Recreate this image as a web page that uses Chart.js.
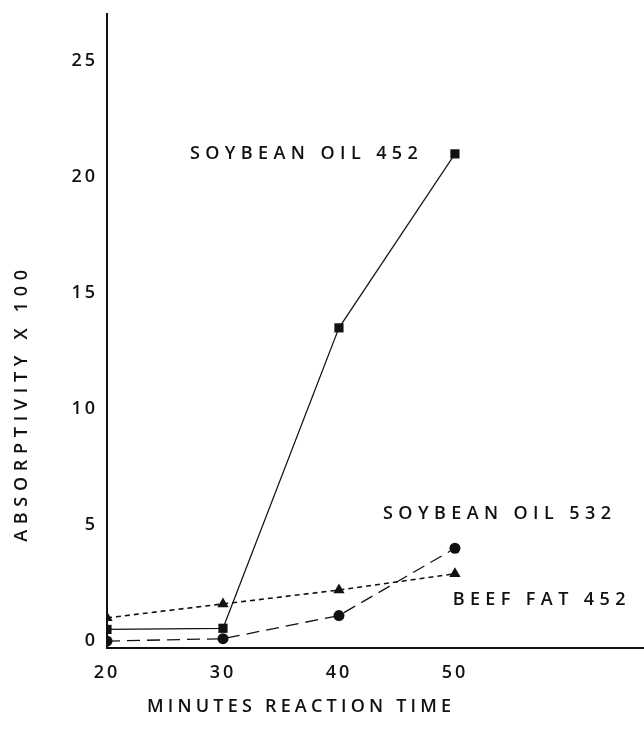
<!DOCTYPE html>
<html>
<head>
<meta charset="utf-8">
<script src="https://cdn.jsdelivr.net/npm/chart.js@4/dist/chart.umd.min.js"></script>
<style>
  html, body { margin: 0; padding: 0; background: #fff; }
  canvas { display: block; }
</style>
</head>
<body>
<canvas id="chart" width="644" height="729"></canvas>
<script>
// reaction time (minutes)
var minutes = [20, 30, 40, 50];

// absorptivity x 100
var soy452 = [0.5, 0.55, 13.5, 21.0];
var soy532 = [0.0, 0.1, 1.1, 4.0];
var beef452 = [1.0, 1.6, 2.2, 2.9];

var xTicks = [20, 30, 40, 50];
var yTicks = [0, 5, 10, 15, 20, 25];

// curve labels, anchored in data units (left edge, middle)
var noteText = ['SOYBEAN OIL 452', 'SOYBEAN OIL 532', 'BEEF FAT 452'];
var noteX = [27.15, 43.8, 49.8];
var noteY = [21.0, 5.47, 1.77];

var ink = '#111';
var fontFamily = '"Open Sans", "Liberation Sans", Arial, sans-serif';

function toPoints(values) {
  return values.map(function (v, i) {
    return { x: minutes[i], y: v };
  });
}

var labelPlugin = {
  id: 'labels',
  beforeDraw: function (chart) {
    chart.ctx.letterSpacing = '3px';
  },
  afterDatasetsDraw: function (chart) {
    var ctx = chart.ctx;
    var xs = chart.scales.x;
    var ys = chart.scales.y;
    ctx.save();
    ctx.fillStyle = ink;
    ctx.font = '600 18px ' + fontFamily;
    ctx.textBaseline = 'middle';
    ctx.textAlign = 'left';
    ctx.letterSpacing = '5.4px';
    for (var i = 0; i < noteText.length; i++) {
      ctx.fillText(noteText[i], xs.getPixelForValue(noteX[i]), ys.getPixelForValue(noteY[i]));
    }

    // axis titles sit off-centre in the original, so place them by hand
    ctx.letterSpacing = '4.2px';
    ctx.fillText('MINUTES REACTION TIME', 147, 707);

    ctx.translate(22, 403);
    ctx.rotate(-Math.PI / 2);
    ctx.textAlign = 'center';
    ctx.letterSpacing = '5.7px';
    ctx.fillText('ABSORPTIVITY X 100', 0, 0);
    ctx.restore();
  }
};

var chartContext = document.getElementById('chart').getContext('2d');

new Chart(chartContext, {
  type: 'line',
  data: {
    datasets: [{
      label: 'Soybean oil 452',
      data: toPoints(soy452),
      borderColor: ink,
      backgroundColor: ink,
      borderWidth: 1.2,
      pointStyle: 'rect',
      pointRadius: 6.5,
      pointBorderWidth: 0
    }, {
      label: 'Soybean oil 532',
      data: toPoints(soy532),
      borderColor: ink,
      backgroundColor: ink,
      borderWidth: 1.3,
      borderDash: [13, 7],
      pointStyle: 'circle',
      pointRadius: 5.5,
      pointBorderWidth: 0
    }, {
      label: 'Beef fat 452',
      data: toPoints(beef452),
      borderColor: ink,
      backgroundColor: ink,
      borderWidth: 1.6,
      borderDash: [5, 4],
      pointStyle: 'triangle',
      pointRadius: 6.5,
      pointBorderWidth: 0
    }]
  },
  options: {
    responsive: false,
    animation: false,
    devicePixelRatio: 1,
    layout: {
      autoPadding: false,
      padding: { top: 14, right: 0, bottom: 0, left: 0 }
    },
    plugins: {
      legend: { display: false },
      tooltip: { enabled: false }
    },
    scales: {
      x: {
        type: 'linear',
        min: 20,
        max: 66.3,
        grid: { display: false },
        border: { display: true, color: ink, width: 2 },
        ticks: {
          color: ink,
          padding: 6,
          maxRotation: 0,
          font: { family: fontFamily, size: 18, weight: '600' }
        },
        afterBuildTicks: function (scale) {
          scale.ticks = xTicks.map(function (v) { return { value: v }; });
        },
        afterFit: function (scale) {
          scale.height = 81;
          scale.paddingLeft = 0;
          scale.paddingRight = 0;
        }
      },
      y: {
        type: 'linear',
        min: -0.3,
        max: 27.03,
        grid: { display: false },
        border: { display: true, color: ink, width: 2 },
        ticks: {
          color: ink,
          padding: 1,
          font: { family: fontFamily, size: 18, weight: '600' }
        },
        afterBuildTicks: function (scale) {
          scale.ticks = yTicks.map(function (v) { return { value: v }; });
        },
        afterFit: function (scale) {
          scale.width = 107;
          scale.paddingTop = 0;
          scale.paddingBottom = 0;
        }
      }
    }
  },
  plugins: [labelPlugin]
});
</script>
</body>
</html>
